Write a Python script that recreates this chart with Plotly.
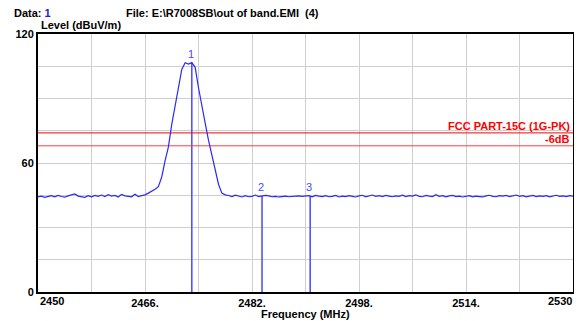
import numpy as np
import plotly.graph_objects as go

# ---------------- data ----------------
freq_start = 2450.0
freq_step = 0.5
levels = [
    44.2, 44.6, 44.0, 44.5, 44.8, 44.3, 44.9, 44.4, 44.1, 44.7,
    45.0, 45.6, 44.6, 44.2, 44.0, 44.8, 44.3, 44.9, 44.5, 45.1,
    44.4, 45.3, 44.6, 44.9, 44.2, 45.4, 44.7, 44.5, 44.3, 45.5,
    44.4, 44.8, 45.2, 46.0, 46.8, 47.8, 49.0, 53.5, 61.0, 67.5,
    78.0, 87.0, 95.5, 103.5, 106.6, 106.0, 106.7, 104.5, 95.0, 86.0,
    78.5, 70.5, 64.0, 56.5, 50.0, 46.0, 45.2, 44.9, 44.4, 45.0,
    44.6, 44.2, 44.8, 44.3, 44.5, 45.1, 44.4, 44.6, 44.9, 44.7,
    44.3, 44.5, 44.2, 44.4, 44.6, 44.3, 44.5, 44.4, 44.7, 44.5,
    44.6, 44.8, 44.3, 44.9, 44.6, 44.4, 44.8, 44.3, 44.5, 44.9,
    44.2, 44.6, 44.4, 44.8, 44.5, 44.2, 44.7, 45.0, 44.3, 44.6,
    45.1, 44.5, 44.8, 44.4, 44.9, 44.6, 44.3, 44.7, 44.5, 45.0,
    44.4, 44.8, 44.6, 45.2, 44.5, 44.3, 44.9, 44.6, 44.4, 45.3,
    44.5, 44.8, 44.3, 44.7, 44.9, 44.4, 44.6, 44.2, 44.5, 44.8,
    44.3, 44.6, 44.4, 44.2, 44.7, 45.0, 44.5, 44.3, 44.8, 44.6,
    44.9, 44.4, 44.7, 45.1, 44.5, 44.8, 44.3, 44.6, 44.9, 44.4,
    44.7, 44.5, 44.8, 44.3, 44.6, 45.0, 44.5, 44.7, 44.4, 44.8,
    44.6,
]
freqs = freq_start + freq_step * np.arange(len(levels))

marker_ids = ["1", "2", "3"]
marker_freqs = [2473.0, 2483.5, 2490.7]
marker_levels = [106.7, 44.6, 44.8]

limit_level = 74.0
limit_label = "FCC PART-15C (1G-PK)"
margin_level = 68.0
margin_label = "-6dB"

x_tick_vals = [2450, 2466, 2482, 2498, 2514, 2530]
x_tick_text = ["", "2466.", "2482.", "2498.", "2514.", ""]
y_tick_vals = [0, 60, 120]
y_tick_text = ["0", "60", "120"]

# ---------------- figure ----------------
FONT = "Liberation Sans, Arial, sans-serif"
BLUE = "#2A2AF5"
MBLUE = "#4848FF"
GRID = "#CFCFCF"

fig = go.Figure()

# marker vertical lines
mx, my = [], []
for f, lv in zip(marker_freqs, marker_levels):
    mx += [f, f, None]
    my += [0, lv, None]
fig.add_trace(go.Scatter(x=mx, y=my, mode="lines",
                         line=dict(color=MBLUE, width=1.5), hoverinfo="skip"))

# limit lines
fig.add_trace(go.Scatter(x=[freqs[0], freqs[-1]], y=[limit_level, limit_level],
                         mode="lines", line=dict(color="#FF0000", width=1)))
fig.add_trace(go.Scatter(x=[freqs[0], freqs[-1]], y=[margin_level, margin_level],
                         mode="lines", line=dict(color="#FF3C3C", width=1)))

# spectrum
fig.add_trace(go.Scatter(x=freqs, y=levels, mode="lines",
                         line=dict(color=BLUE, width=1.2)))

ann = []
for mid, f, lv in zip(marker_ids, marker_freqs, marker_levels):
    ann.append(dict(x=f, y=lv, xref="x", yref="y", text=mid, showarrow=False,
                    yanchor="bottom", yshift=1, xshift=-1,
                    font=dict(family=FONT, size=11, color=MBLUE)))

ann.append(dict(x=1, y=limit_level, xref="paper", yref="y", text="<b>" + limit_label + "</b>",
                showarrow=False, xanchor="right", yanchor="bottom", xshift=-1, yshift=-1,
                font=dict(family=FONT, size=11, color="#FF0000")))
ann.append(dict(x=1, y=margin_level, xref="paper", yref="y", text="<b>" + margin_label + "</b>",
                showarrow=False, xanchor="right", yanchor="bottom", xshift=-1, yshift=-1,
                font=dict(family=FONT, size=11, color="#FF0000")))

# edge x tick labels
ann.append(dict(x=x_tick_vals[0], y=0, xref="x", yref="paper", text="<b>2450</b>",
                showarrow=False, xanchor="left", yanchor="top", yshift=-1,
                font=dict(family=FONT, size=11, color="black")))
ann.append(dict(x=x_tick_vals[-1], y=0, xref="x", yref="paper", text="<b>2530</b>",
                showarrow=False, xanchor="right", yanchor="top", xshift=1, yshift=-1,
                font=dict(family=FONT, size=11, color="black")))

# axis title
ann.append(dict(x=0.5, y=0, xref="paper", yref="paper", text="<b>Frequency (MHz)</b>",
                showarrow=False, xanchor="center", yanchor="middle", yshift=-22,
                font=dict(family=FONT, size=11, color="black")))

# header texts
ann.append(dict(x=0, y=1, xref="paper", yref="paper", xshift=-26, yshift=21,
                text="<b>Data: <span style='color:#2020E0'>1</span></b>",
                showarrow=False, xanchor="left", yanchor="middle",
                font=dict(family=FONT, size=11, color="black")))
ann.append(dict(x=0, y=1, xref="paper", yref="paper", xshift=86, yshift=21,
                text="<b>File: E:\\R7008SB\\out of band.EMI  (4)</b>",
                showarrow=False, xanchor="left", yanchor="middle",
                font=dict(family=FONT, size=11, color="black")))
ann.append(dict(x=0, y=1, xref="paper", yref="paper", xshift=1, yshift=9,
                text="<b>Level (dBuV/m)</b>",
                showarrow=False, xanchor="left", yanchor="middle",
                font=dict(family=FONT, size=11, color="black")))

# the page body has an 8px margin, so the figure is sized to fit the window
fig.update_layout(
    width=574, height=313,
    margin=dict(l=30, r=9, t=26, b=29),
    paper_bgcolor="white", plot_bgcolor="white",
    showlegend=False,
    annotations=ann,
    font=dict(family=FONT, size=11, color="black"),
)
fig.update_xaxes(
    range=[2450, 2530], tickvals=x_tick_vals, automargin=False,
    ticktext=["<b>%s</b>" % t if t else "" for t in x_tick_text],
    showgrid=True, gridcolor=GRID, gridwidth=1,
    minor=dict(dtick=8, tick0=2450, showgrid=True, gridcolor=GRID, gridwidth=1),
    ticks="", showline=True, linecolor="black", linewidth=2, mirror=True,
    zeroline=False, tickfont=dict(family=FONT, size=11),
)
fig.update_yaxes(
    range=[0, 120], tickvals=y_tick_vals, automargin=False,
    ticktext=["<b>%s</b>" % t for t in y_tick_text],
    showgrid=True, gridcolor=GRID, gridwidth=1,
    minor=dict(dtick=15, tick0=0, showgrid=True, gridcolor=GRID, gridwidth=1),
    ticks="", showline=True, linecolor="black", linewidth=2, mirror=True,
    zeroline=False, tickfont=dict(family=FONT, size=11),
)

fig.write_html("out.html")
